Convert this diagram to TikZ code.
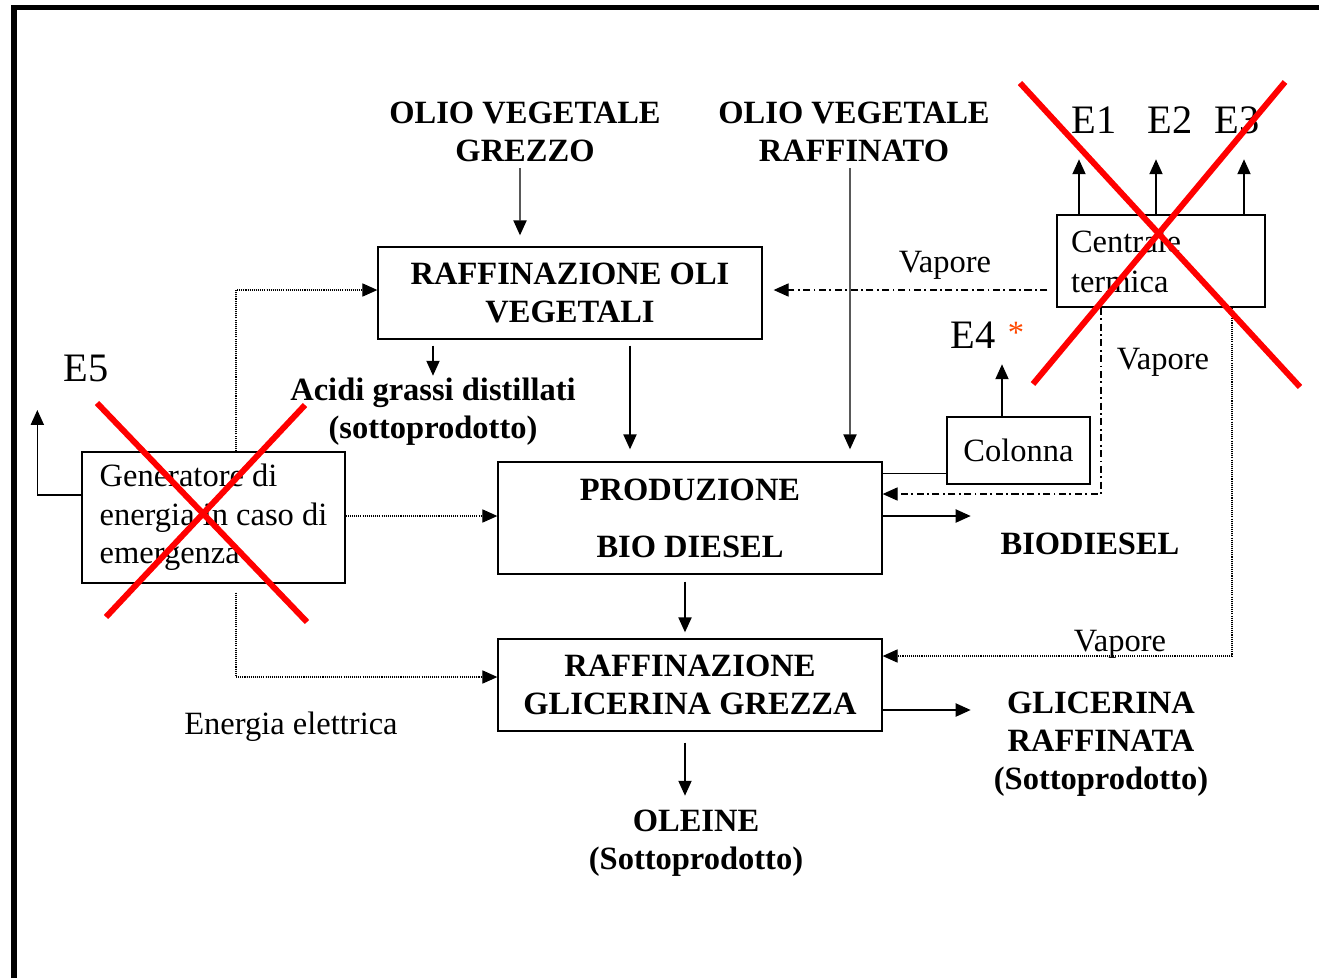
\documentclass[tikz,border=0pt]{standalone}
\usepackage{fontspec}
\setmainfont{Liberation Serif}
\usetikzlibrary{arrows.meta}
\definecolor{astorange}{RGB}{255,72,0}
\tikzset{
  box/.style={draw, line width=0.8pt, inner sep=0.14cm, font=\fontsize{18.5}{22}\selectfont},
  bbox/.style={box, font=\fontsize{18.5}{21.5}\selectfont\bfseries, align=center},
  lbl/.style={font=\fontsize{18.5}{21.5}\selectfont\bfseries, align=center, inner sep=0pt},
  txt/.style={font=\fontsize{18.5}{21.5}\selectfont, inner sep=0pt},
  elbl/.style={font=\fontsize{23}{26}\selectfont, inner sep=0pt},
  arr/.style={line width=0.8pt, -{Triangle[length=8.5pt,width=7.5pt]}},
  dashdot/.style={line width=0.6pt, dash pattern=on 4pt off 2pt on 1pt off 2pt},
  dots/.style={line width=0.6pt, dash pattern=on 0.6pt off 0.6pt},
  cross/.style={red, line width=3.4pt}
}
\begin{document}
\begin{tikzpicture}[x=0.02cm,y=-0.02cm]
  \useasboundingbox (0,0) rectangle (1319,978);
  \draw[line width=3.2pt] (14,978) -- (14,7.5) -- (1319,7.5);

  % boxes
  \node[bbox, minimum width=7.68cm, minimum height=1.84cm] (raffoli) at (570,293) {RAFFINAZIONE OLI\\VEGETALI};
  \node[bbox, minimum width=7.68cm, minimum height=2.24cm] (prod) at (690,518) {PRODUZIONE\\[11pt]BIO DIESEL};
  \node[bbox, minimum width=7.68cm, minimum height=1.84cm] (glic) at (690,685) {RAFFINAZIONE\\GLICERINA GREZZA};
  \node[box, inner xsep=0.28cm, minimum width=5.26cm, minimum height=2.62cm, align=left] (gen) at (213.5,517.5) {Generatore di\\energia in caso di\\emergenza};
  \node[box, inner xsep=0.28cm, text width=3.60cm, minimum height=1.84cm, align=left, font=\fontsize{18.5}{22.7}\selectfont] (cent) at (1161,261) {Centrale\\termica};
  \node[box, minimum width=2.86cm, minimum height=1.34cm] (col) at (1018.5,450.5) {Colonna};

  % labels
  \node[lbl] (grezzo) at (525,132) {OLIO VEGETALE\\GREZZO};
  \node[lbl] (raffinato) at (854,132) {OLIO VEGETALE\\RAFFINATO};
  \node[lbl] (acidi) at (433,412) {Acidi grassi distillati\\(sottoprodotto)};
  \node[lbl] (biodiesel) at (1090,544) {BIODIESEL};
  \node[lbl] (glicraff) at (1101,744) {GLICERINA\\RAFFINATA\\(Sottoprodotto)};
  \node[lbl] (oleine) at (696,843) {OLEINE\\(Sottoprodotto)};
  \node[txt] (elettrica) at (291,727) {Energia elettrica};
  \node[txt] (vap1) at (945,265) {Vapore};
  \node[txt] (vap2) at (1163,362) {Vapore};
  \node[txt] (vap3) at (1120,644) {Vapore};
  \node[elbl] (e1) at (1094,120) {E1};
  \node[elbl] (e2) at (1170,120) {E2};
  \node[elbl] (e3) at (1237,120) {E3};
  \node[elbl] (e4) at (973,335) {E4};
  \node[txt, astorange] (ast) at (1016,333) {*};
  \node[elbl] (e5) at (86,368) {E5};

  % flows
  \draw[arr, shorten >=0.22cm] (grezzo.south) ++(-5,6) -- ([xshift=-0.1cm]grezzo.south |- raffoli.north);
  \draw[arr, shorten >=0.24cm] (raffinato.south) ++(-4,6) -- ([xshift=-0.08cm]raffinato.south |- prod.north);
  \draw[arr, shorten <=0.12cm] (raffoli.south -| acidi) -- ++(0,36);
  \draw[arr, shorten <=0.12cm, shorten >=0.24cm] ([xshift=1.2cm]raffoli.south) -- ([xshift=1.2cm]raffoli.south |- prod.north);
  \draw[arr, shorten <=0.14cm, shorten >=0.12cm] ([xshift=-0.1cm]prod.south) -- ([xshift=-0.1cm]glic.north);
  \draw[arr, shorten <=0.22cm] ([xshift=-0.1cm]glic.south) -- ++(0,64);
  \draw[arr] ([yshift=0.04cm]prod.east) -- ++(88,0);
  \draw[arr] ([yshift=-0.5cm]glic.east) -- ++(88,0);
  \draw[line width=0.8pt] ([yshift=-0.46cm]col.west) -- ++(-65,0);
  \draw[arr] ([xshift=-0.33cm]col.north) -- ++(0,-52);
  \foreach \dx in {-82,-5,83}
    \draw[arr] ([xshift=\dx*0.02cm]cent.north) -- ++(0,-55);
  \draw[arr] ([yshift=0.45cm]gen.west) -| ++(-44,-85);

  % steam
  \draw[arr, dashdot, shorten <=0.18cm, shorten >=0.22cm] ([yshift=-0.58cm]cent.west) -- ([yshift=-0.58cm]cent.west -| raffoli.east);
  \draw[arr, dashdot] ([xshift=-1.2cm]cent.south) |- ([yshift=0.48cm]prod.east);
  \draw[arr, dots] ([xshift=1.42cm]cent.south) |- ([yshift=0.58cm]glic.east);

  % electricity
  \draw[arr, dots] ([xshift=0.45cm]gen.north) |- ([yshift=0.06cm]raffoli.west);
  \draw[arr, dots] ([yshift=0.03cm]gen.east) -- ([yshift=0.03cm]gen.east -| prod.west);
  \draw[arr, dots, shorten <=0.18cm] ([xshift=0.45cm]gen.south) |- ([yshift=0.16cm]glic.west);

  % crossed out
  \draw[cross] (1020,83) -- (1300,387);
  \draw[cross] (1285,82) -- (1033,384);
  \draw[cross] (97,403) -- (307,622);
  \draw[cross] (305,405) -- (106,617);
\end{tikzpicture}
\end{document}
